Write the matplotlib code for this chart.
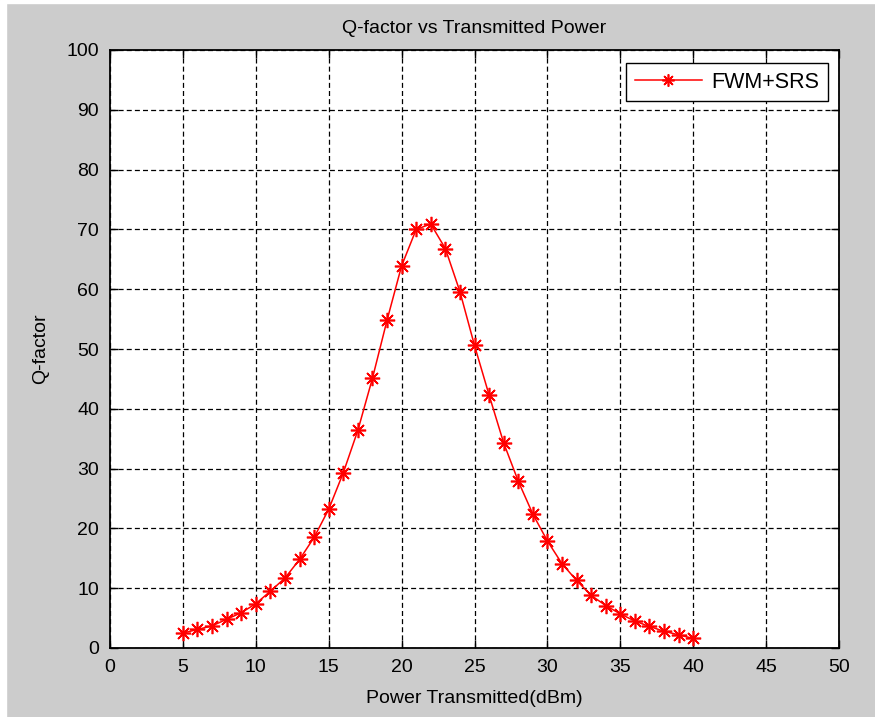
import matplotlib
matplotlib.use('Agg')
import matplotlib.pyplot as plt
from matplotlib import font_manager
from matplotlib.patches import Rectangle

# Q-factor readings, one per dBm step
power_dbm = [5, 6, 7, 8, 9, 10, 11, 12, 13, 14, 15, 16, 17, 18, 19, 20, 21, 22,
             23, 24, 25, 26, 27, 28, 29, 30, 31, 32, 33, 34, 35, 36, 37, 38, 39, 40]
q_factor = [2.5, 3.1, 3.7, 4.8, 5.9, 7.4, 9.5, 11.7, 14.8, 18.5, 23.2, 29.3, 36.4,
            45.1, 54.8, 63.9, 70.0, 70.9, 66.8, 59.6, 50.6, 42.3, 34.3, 27.9, 22.4,
            17.9, 14.1, 11.3, 8.8, 7.1, 5.7, 4.5, 3.6, 2.8, 2.2, 1.6]
x_ticks = [0, 5, 10, 15, 20, 25, 30, 35, 40, 45, 50]
y_ticks = [0, 10, 20, 30, 40, 50, 60, 70, 80, 90, 100]

names = {f.name for f in font_manager.fontManager.ttflist}
if 'Liberation Sans Narrow' in names:
    plt.rcParams['font.family'] = ['Liberation Sans Narrow', 'DejaVu Sans']
    fs = 16.5
else:
    plt.rcParams['font.family'] = ['Liberation Sans', 'DejaVu Sans']
    fs = 14

fig = plt.figure(figsize=(8.75, 7.17), dpi=100, facecolor='#cccccc')
# white strips at the top and left edge of the screenshot
fig.patches.append(Rectangle((0, 0), 6 / 875, 1, transform=fig.transFigure,
                             color='white', zorder=-1))
fig.patches.append(Rectangle((0, 1 - 3 / 717), 1, 3 / 717, transform=fig.transFigure,
                             color='white', zorder=-1))

ax = fig.add_axes([110 / 875, 69 / 717, 729 / 875, 598 / 717])
ax.set_facecolor('white')

ax.plot(power_dbm, q_factor, color='red', lw=1.1, marker=(8, 2, 0),
        markersize=11, markeredgewidth=1.2, label='FWM+SRS', zorder=3)

ax.set_xlim(0, 50)
ax.set_ylim(0, 100)
ax.set_xticks(x_ticks)
ax.set_yticks(y_ticks)
ax.tick_params(direction='in', length=6, width=1, top=True, right=True,
               labelsize=fs, pad=8, colors='black')
ax.grid(True, color='black', linestyle=(0, (4, 2.5)), linewidth=0.9)
for s in ax.spines.values():
    s.set_linewidth(1.3)

ax.set_title('Q-factor vs Transmitted Power', fontsize=fs, pad=12)
ax.set_xlabel('Power Transmitted(dBm)', fontsize=fs, labelpad=10)
ax.set_ylabel('Q-factor', fontsize=fs, labelpad=12)

leg = ax.legend(loc='upper right', fontsize=fs + 1.5, fancybox=False, framealpha=1,
                edgecolor='black', handlelength=3.1, handletextpad=0.45,
                borderpad=0.4, borderaxespad=0, markerscale=0.8,
                bbox_to_anchor=(0.985, 0.978))
leg.get_frame().set_linewidth(1)

fig.savefig('out.png', dpi=100, facecolor=fig.get_facecolor())
